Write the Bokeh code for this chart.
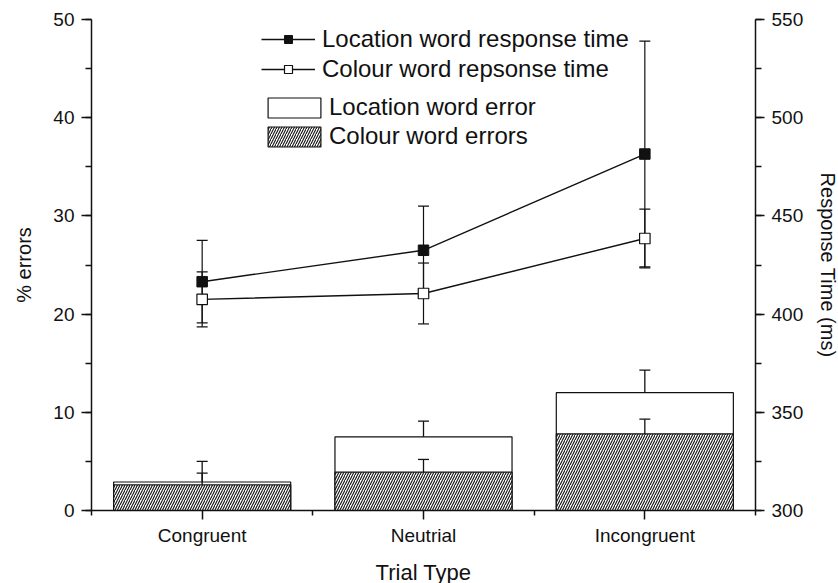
from bokeh.plotting import figure
from bokeh.models import (Range1d, LinearAxis, FixedTicker, SingleIntervalTicker, Whisker, TeeHead,
                          ColumnDataSource, Legend, LegendItem)
from bokeh.embed import file_html
from bokeh.resources import INLINE

# ---- data ----
categories = ["Congruent", "Neutrial", "Incongruent"]
x_pos = [1, 2, 3]
loc_err_pct = [2.9, 7.5, 12.0]        # Location word error (%)
loc_err_pct_se = [2.1, 1.6, 2.3]
col_err_pct = [2.6, 3.9, 7.8]         # Colour word errors (%)
col_err_pct_se = [1.2, 1.3, 1.5]
loc_rt = [416.5, 432.5, 481.5]        # Location word response time (ms)
loc_rt_se = [21.0, 22.5, 57.5]
col_rt = [407.5, 410.5, 438.5]        # Colour word response time (ms)
col_rt_se = [14.0, 15.5, 15.0]
left_range = (0, 50)
right_range = (300, 550)

FONT = "Liberation Sans"
INK = "#111111"

p = figure(frame_width=664, frame_height=491, min_border_left=91, min_border_right=84,
           min_border_top=19, min_border_bottom=73,
           x_range=Range1d(0.5, 3.5), y_range=Range1d(*left_range),
           output_backend="svg", toolbar_location=None)
p.extra_y_ranges = {"rt": Range1d(*right_range)}
p.outline_line_color = None
p.xgrid.visible = False
p.ygrid.visible = False
p.background_fill_color = "white"
p.border_fill_color = "white"

def style_axis(ax):
    ax.axis_line_width = 1.5
    ax.axis_line_color = INK
    ax.major_tick_line_color = INK
    ax.minor_tick_line_color = INK
    ax.major_tick_line_width = 1.5
    ax.minor_tick_line_width = 1.5
    ax.major_tick_in = 0
    ax.minor_tick_in = 0
    ax.major_tick_out = 10
    ax.minor_tick_out = 6
    ax.major_label_text_font = FONT
    ax.major_label_text_font_size = "19px"
    ax.major_label_text_color = INK
    ax.axis_label_text_font = FONT
    ax.axis_label_text_font_size = "20px"
    ax.axis_label_text_font_style = "normal"
    ax.axis_label_text_color = INK

# left axis
yl = p.yaxis[0]
style_axis(yl)
yl.ticker = SingleIntervalTicker(interval=10, num_minor_ticks=2)
yl.axis_label = "% errors"
yl.major_label_standoff = 7
yl.axis_label_standoff = 15

# bottom axis
xb = p.xaxis[0]
style_axis(xb)
xb.ticker = FixedTicker(ticks=x_pos, minor_ticks=[0.5, 1.5, 2.5, 3.5])
xb.major_label_overrides = {x: c for x, c in zip(x_pos, categories)}
xb.major_tick_out = 9
xb.minor_tick_out = 5
xb.major_label_standoff = 5
xb.axis_label = "Trial Type"
xb.axis_label_text_font_size = "22px"
xb.axis_label_standoff = 11

# right axis
yr = LinearAxis(y_range_name="rt", ticker=SingleIntervalTicker(interval=50, num_minor_ticks=2))
style_axis(yr)
yr.major_tick_out = 9
yr.axis_label = "Response Time (ms)"
yr.major_label_standoff = 7
yr.axis_label_standoff = 11
p.add_layout(yr, "right")

# ---- bars ----
bar_src = ColumnDataSource(dict(
    x=x_pos, loc=loc_err_pct, col=col_err_pct,
    loc_up=[a + b for a, b in zip(loc_err_pct, loc_err_pct_se)],
    col_up=[a + b for a, b in zip(col_err_pct, col_err_pct_se)],
))
loc_bar = p.vbar(x="x", top="loc", width=0.8, source=bar_src, fill_color="white",
                 line_color=INK, line_width=1.2)
col_bar = p.vbar(x="x", top="col", width=0.8, source=bar_src, fill_color="white",
                 line_color=INK, line_width=1.2, hatch_pattern="/", hatch_color=INK,
                 hatch_scale=5, hatch_weight=1.1)

for up, low in (("loc_up", "loc"), ("col_up", "col")):
    w = Whisker(source=bar_src, base="x", lower=low, upper=up,
                upper_head=TeeHead(size=11, line_width=1.3, line_color=INK),
                lower_head=None, line_width=1.3, line_color=INK, level="annotation")
    p.add_layout(w)

# ---- response time lines ----
rt_src = ColumnDataSource(dict(
    x=x_pos, loc=loc_rt, col=col_rt,
    loc_lo=[a - b for a, b in zip(loc_rt, loc_rt_se)],
    loc_hi=[a + b for a, b in zip(loc_rt, loc_rt_se)],
    col_lo=[a - b for a, b in zip(col_rt, col_rt_se)],
    col_hi=[a + b for a, b in zip(col_rt, col_rt_se)],
))
for lo, hi in (("loc_lo", "loc_hi"), ("col_lo", "col_hi")):
    w = Whisker(source=rt_src, base="x", lower=lo, upper=hi, y_range_name="rt",
                upper_head=TeeHead(size=11, line_width=1.2, line_color=INK),
                lower_head=TeeHead(size=11, line_width=1.2, line_color=INK),
                line_width=1.2, line_color=INK, level="underlay")
    p.add_layout(w)

loc_line = p.line("x", "loc", source=rt_src, y_range_name="rt", line_color=INK, line_width=1.4)
col_line = p.line("x", "col", source=rt_src, y_range_name="rt", line_color=INK, line_width=1.4)
loc_mk = p.scatter("x", "loc", source=rt_src, y_range_name="rt", marker="square", size=10.5,
                   fill_color=INK, line_color=INK, line_width=1)
col_mk = p.scatter("x", "col", source=rt_src, y_range_name="rt", marker="square", size=10.5,
                   fill_color="white", line_color=INK, line_width=1.2)

# ---- legends ----
def make_legend(items, loc, spacing, gw, gh, standoff):
    lg = Legend(items=items, location=loc, orientation="vertical")
    lg.border_line_color = None
    lg.background_fill_alpha = 0
    lg.label_text_font = FONT
    lg.label_text_font_size = "24px"
    lg.label_text_color = INK
    lg.glyph_width = gw
    lg.glyph_height = gh
    lg.label_height = 20
    lg.label_standoff = standoff
    lg.padding = 0
    lg.margin = 0
    lg.spacing = spacing
    return lg

leg1 = make_legend([
    LegendItem(label="Location word response time", renderers=[loc_line, loc_mk]),
    LegendItem(label="Colour word repsonse time", renderers=[col_line, col_mk]),
], (170, 427), 2, 54, 20, 7)
leg2 = make_legend([
    LegendItem(label="Location word error", renderers=[loc_bar]),
    LegendItem(label="Colour word errors", renderers=[col_bar]),
], (170, 360), 1, 66, 25, 2)
p.add_layout(leg1)
p.add_layout(leg2)

open("out.html", "w").write(file_html(p, INLINE))
